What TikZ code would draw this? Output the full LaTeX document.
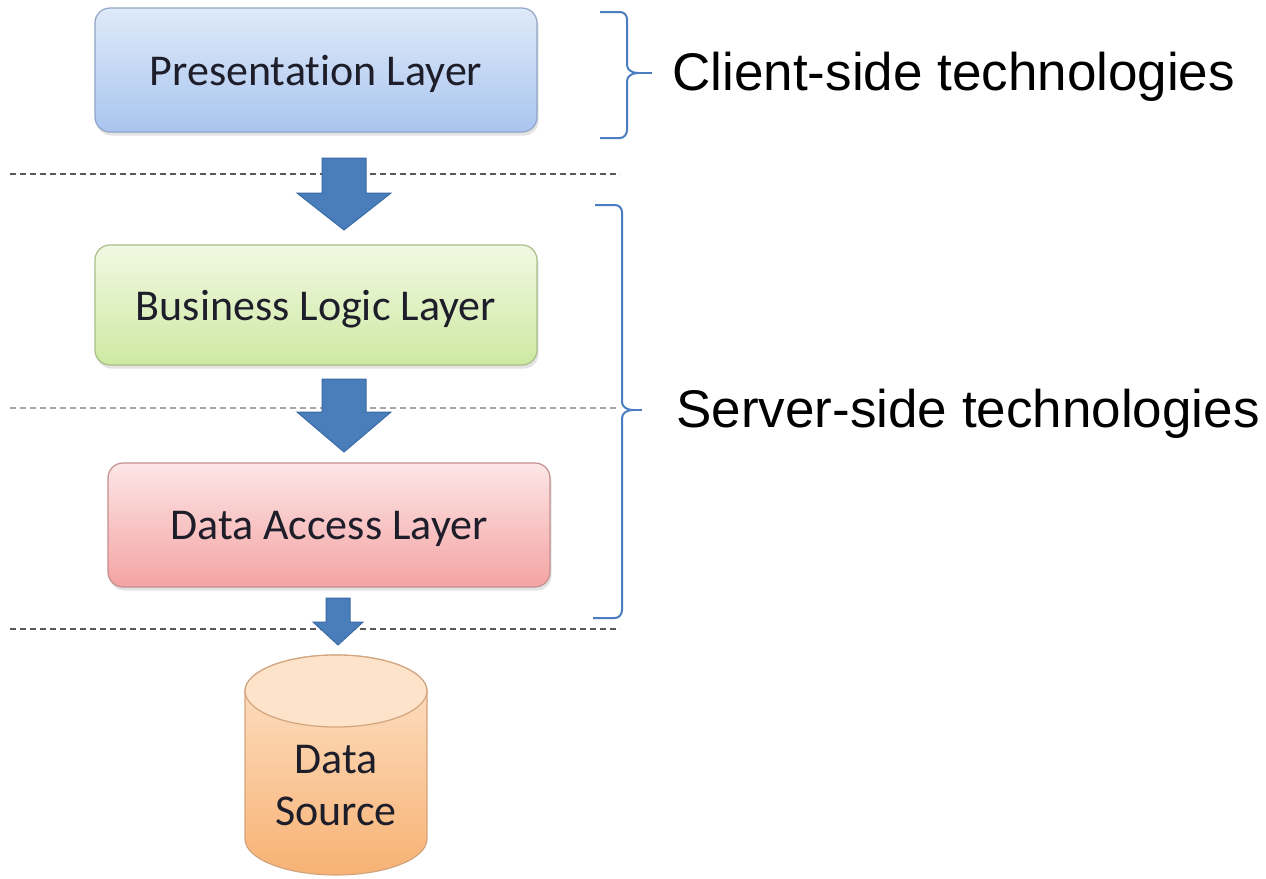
\documentclass[tikz,border=0pt]{standalone}
\usepackage{fontspec}
\setmainfont{Carlito}[Ligatures=NoCommon]
\newfontfamily\arialfont{Liberation Sans}
\usetikzlibrary{shadows,calc}
\definecolor{txt}{HTML}{1E1E2A}
\definecolor{arrowfill}{HTML}{4A7EBB}
\definecolor{arrowdraw}{HTML}{3A6AA6}
\definecolor{bracecol}{HTML}{4A7EC0}
\definecolor{presTop}{HTML}{DFEAF9}
\definecolor{presBot}{HTML}{A9C5EF}
\definecolor{presBd}{HTML}{8FA5C6}
\definecolor{busTop}{HTML}{F1F8E2}
\definecolor{busBot}{HTML}{CDE9A2}
\definecolor{busBd}{HTML}{A9BD86}
\definecolor{dalTop}{HTML}{FDE6E6}
\definecolor{dalBot}{HTML}{F4A3A3}
\definecolor{dalBd}{HTML}{C48E8E}
\definecolor{cylTop}{HTML}{FDE3CA}
\definecolor{cylBot}{HTML}{F8B274}
\definecolor{cylBd}{HTML}{D3A57E}
\tikzset{
  layer/.style={rounded corners=7.5pt, minimum width=221pt, align=center,
    font=\fontsize{22}{26}\selectfont, text=txt, line width=0.6pt, text depth=0pt,
    drop shadow={opacity=0.22, shadow xshift=0.8pt, shadow yshift=-1.8pt}},
  blockarrow/.style={fill=arrowfill, draw=arrowdraw, line width=0.5pt, line join=miter},
  sepline/.style={dash pattern=on 3pt off 2pt, line width=0.7pt},
  bracepath/.style={draw=bracecol, line width=1pt},
  sidelabel/.style={font=\arialfont\fontsize{26.5}{30}\selectfont, text=black, anchor=base west, inner sep=0pt}
}
\newcommand\blockarr[7]{% cx, top, neck, tip, shaft half, head half, name
  \path[blockarrow] ({#1-#5},#2) -- ({#1+#5},#2) -- ({#1+#5},#3) -- ({#1+#6},#3)
    -- (#1,#4) coordinate (#7) -- ({#1-#6},#3) -- ({#1-#5},#3) -- cycle;}
\begin{document}
\begin{tikzpicture}[x=0.5pt,y=-0.5pt]
\useasboundingbox (0,0) rectangle (1266,879);
\fill[white] (0,0) rectangle (1266,879);

% separator lines
\draw[sepline, draw=black!65] (10,174) -- (620,174);
\draw[sepline, draw=black!35] (10,408) -- (620,408);
\draw[sepline, draw=black!65] (10,629) -- (620,629);

% layer boxes
\node[layer, draw=presBd, top color=presTop, bottom color=presBot,
  minimum height=62pt] (pres) at (316,70) {Presentation Layer};
\node[layer, draw=busBd, top color=busTop, bottom color=busBot,
  minimum height=60pt] (bus) at (316,305) {Business Logic Layer};
\node[layer, draw=dalBd, top color=dalTop, bottom color=dalBot,
  minimum height=62pt] (dal) at (329,525) {Data Access Layer};

% data source cylinder
\path[top color=cylTop, bottom color=cylBot, draw=cylBd, line width=0.6pt]
  (245,691) -- (245,839) arc[start angle=180, end angle=360, x radius=45.5pt, y radius=18pt]
  -- (427,691) arc[start angle=0, end angle=180, x radius=45.5pt, y radius=18pt] -- cycle;
\path[fill=cylTop, draw=cylBd, line width=0.6pt] (336,691) ellipse [x radius=45.5pt, y radius=18pt];
\node[font=\fontsize{22}{26}\selectfont, text=txt, align=center] (ds) at (336,786) {Data\\Source};

% block arrows
\blockarr{344}{158}{193}{230}{22}{47}{a1}
\blockarr{344}{379}{412}{452}{22}{47}{a2}
\blockarr{338}{598}{622}{645}{12}{25}{a3}

% braces
\draw[bracepath] (600,12) -- (620,12) to[out=0,in=90] (627,19) -- (627,65)
  to[out=-90,in=180] (638,73) to[out=180,in=90] (627,81) -- (627,130)
  to[out=-90,in=0] (620,138) -- (600,138);
\draw[bracepath] (638,73) -- (652,73);
\draw[bracepath] (595,205) -- (615,205) to[out=0,in=90] (622,212) -- (622,402)
  to[out=-90,in=180] (633,410) to[out=180,in=90] (622,418) -- (622,610)
  to[out=-90,in=0] (615,618) -- (593,618);
\draw[bracepath] (633,410) -- (642,410);

% labels
\node[sidelabel] (client) at (672,90) {Client-side technologies};
\node[sidelabel] (server) at (676,427) {Server-side technologies};
\end{tikzpicture}
\end{document}
